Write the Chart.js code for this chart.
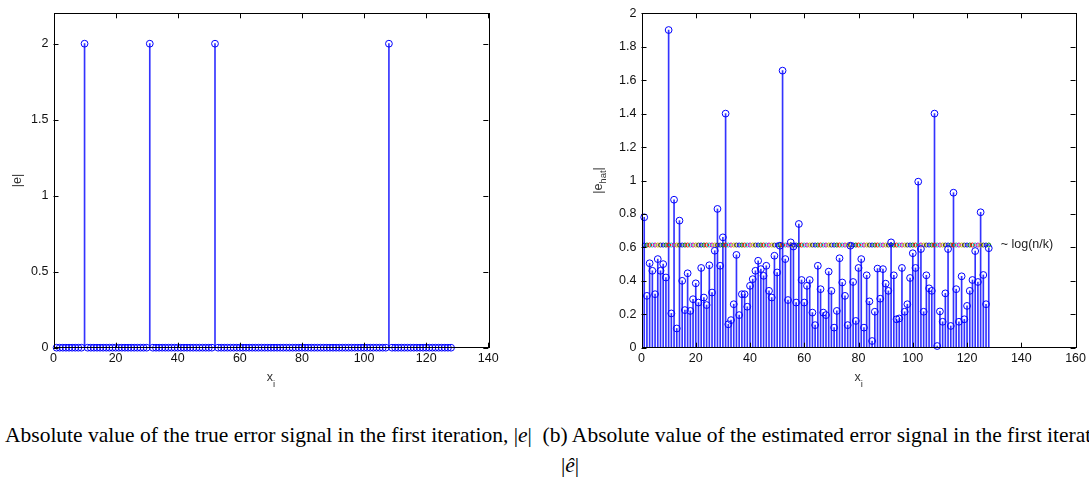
<!DOCTYPE html>
<html>
<head>
<meta charset="utf-8">
<script src="https://cdn.jsdelivr.net/npm/chart.js@4.4.1/dist/chart.umd.min.js"></script>
<style>
  body { margin: 0; width: 1089px; height: 480px; overflow: hidden; background: #fff; position: relative; }
  canvas { position: absolute; top: 0; }
  #left { left: 0; }
  #right { left: 588px; }
  .cap { position: absolute; font-family: "Liberation Serif", "Times New Roman", serif; font-size: 21.5px; white-space: nowrap; color: #000; }
</style>
</head>
<body>
<canvas id="left" width="545" height="400"></canvas>
<canvas id="right" width="501" height="400"></canvas>
<div class="cap" style="left:5px; top:423px;">Absolute value of the true error signal in the first iteration, |<i>e</i>|&nbsp; (b) Absolute value of the estimated error signal in the first iteration,</div>
<div class="cap" style="left:561px; top:453px;">|<i>ê</i>|</div>
<script>
// sample index 1..128
var idx = [];
for (var i = 1; i <= 128; i++) idx.push(i);

// true error magnitude |e|
var trueErr = [
  0,0,0,0,0,0,0,0,0,2, 0,0,0,0,0,0,0,0,0,0,
  0,0,0,0,0,0,0,0,0,0, 2,0,0,0,0,0,0,0,0,0,
  0,0,0,0,0,0,0,0,0,0, 0,2,0,0,0,0,0,0,0,0,
  0,0,0,0,0,0,0,0,0,0, 0,0,0,0,0,0,0,0,0,0,
  0,0,0,0,0,0,0,0,0,0, 0,0,0,0,0,0,0,0,0,0,
  0,0,0,0,0,0,0,2,0,0, 0,0,0,0,0,0,0,0,0,0,
  0,0,0,0,0,0,0,0
];

// estimated error magnitude |e_hat|
var estErr = [
  0.78, 0.31, 0.505, 0.46, 0.32, 0.53, 0.46, 0.50, 0.42, 1.90,
  0.205, 0.885, 0.115, 0.76, 0.40, 0.225, 0.445, 0.22, 0.29, 0.385,
  0.27, 0.477, 0.30, 0.255, 0.493, 0.33, 0.58, 0.83, 0.49, 0.66,
  1.40, 0.14, 0.165, 0.26, 0.555, 0.195, 0.32, 0.32, 0.245, 0.37,
  0.41, 0.46, 0.52, 0.47, 0.43, 0.49, 0.34, 0.30, 0.55, 0.45,
  0.61, 1.657, 0.53, 0.285, 0.63, 0.605, 0.27, 0.74, 0.405, 0.27,
  0.37, 0.405, 0.21, 0.135, 0.49, 0.35, 0.21, 0.195, 0.455, 0.34,
  0.12, 0.22, 0.535, 0.39, 0.31, 0.135, 0.61, 0.393, 0.16, 0.477,
  0.53, 0.12, 0.433, 0.277, 0.04, 0.215, 0.473, 0.293, 0.47, 0.383,
  0.34, 0.63, 0.433, 0.17, 0.175, 0.477, 0.215, 0.26, 0.417, 0.565,
  0.477, 0.993, 0.59, 0.215, 0.433, 0.355, 0.34, 1.40, 0.01, 0.217,
  0.155, 0.325, 0.59, 0.13, 0.927, 0.35, 0.155, 0.427, 0.17, 0.25,
  0.34, 0.405, 0.578, 0.393, 0.81, 0.435, 0.26, 0.595
];

// threshold level, roughly log(n/k)
var threshold = 0.614;
var thresholdLabel = '~ log(n/k)';

var xTicksLeft = [0, 20, 40, 60, 80, 100, 120, 140];
var yTicksLeft = [0, 0.5, 1, 1.5, 2];
var xTicksRight = [0, 20, 40, 60, 80, 100, 120, 140, 160];
var yTicksRight = [0, 0.2, 0.4, 0.6, 0.8, 1, 1.2, 1.4, 1.6, 1.8, 2];

// matlab-ish line colour order for the threshold markers
var lineColors = ['#0000ff', '#008000', '#ff0000', '#00bfbf', '#bf00bf', '#bfbf00', '#404040'];

var fontFamily = 'Liberation Sans, Arial, sans-serif';
var tickFont = { family: fontFamily, size: 12.5 };

// box around the axes with inward tick marks on all four sides
var boxTicks = {
  id: 'boxTicks',
  afterDatasetsDraw: function (chart) {
    var ctx = chart.ctx, a = chart.chartArea;
    var xs = chart.scales.x, ys = chart.scales.y;
    var len = 5;
    ctx.save();
    ctx.strokeStyle = '#000';
    ctx.lineWidth = 1;
    ctx.beginPath();
    xs.ticks.forEach(function (t) {
      var px = Math.round(xs.getPixelForValue(t.value)) + 0.5;
      ctx.moveTo(px, a.bottom); ctx.lineTo(px, a.bottom - len);
      ctx.moveTo(px, a.top); ctx.lineTo(px, a.top + len);
    });
    ys.ticks.forEach(function (t) {
      var py = Math.round(ys.getPixelForValue(t.value)) + 0.5;
      ctx.moveTo(a.left, py); ctx.lineTo(a.left + len, py);
      ctx.moveTo(a.right, py); ctx.lineTo(a.right - len, py);
    });
    ctx.stroke();
    ctx.strokeRect(Math.round(a.left) + 0.5, Math.round(a.top) + 0.5,
      Math.round(a.right - a.left), Math.round(a.bottom - a.top));
    ctx.restore();
  }
};

// axis titles with subscripts, plus the threshold note
var axisTitles = {
  id: 'axisTitles',
  afterDraw: function (chart) {
    var o = chart.options.plugins.axisTitles;
    var ctx = chart.ctx, a = chart.chartArea;
    var cx = (a.left + a.right) / 2, cy = (a.top + a.bottom) / 2;
    var big = '12.5px ' + fontFamily, small = '9.5px ' + fontFamily;
    ctx.save();
    ctx.fillStyle = '#333';
    ctx.textBaseline = 'alphabetic';
    ctx.font = big;
    // x_i
    ctx.textAlign = 'left';
    var w = ctx.measureText('x').width;
    ctx.fillText('x', cx - w / 2 - 1, a.bottom + 33);
    ctx.font = small;
    ctx.fillText('i', cx + w / 2 - 1, a.bottom + 39);
    // y label, rotated
    ctx.translate(o.yTitleX, cy);
    ctx.rotate(-Math.PI / 2);
    ctx.font = big;
    var main = o.yMain, sub = o.ySub;
    var w1 = ctx.measureText(main).width;
    ctx.font = small;
    var w2 = sub ? ctx.measureText(sub).width : 0;
    ctx.font = big;
    var w3 = ctx.measureText('|').width;
    var total = w1 + w2 + (sub ? w3 : 0);
    var sx = -total / 2;
    ctx.fillText(main, sx, 4);
    if (sub) {
      ctx.font = small;
      ctx.fillText(sub, sx + w1, 8);
      ctx.font = big;
      ctx.fillText('|', sx + w1 + w2, 4);
    }
    ctx.restore();
    if (o.note) {
      var xs = chart.scales.x, ys = chart.scales.y;
      ctx.save();
      ctx.fillStyle = '#222';
      ctx.font = big;
      ctx.textAlign = 'left';
      ctx.textBaseline = 'middle';
      ctx.fillText(o.note, xs.getPixelForValue(128) + 12, ys.getPixelForValue(threshold));
      ctx.restore();
    }
  }
};

function plainLabel(v) { return String(v); }

function stemChart(id, values, xMax, xTicks, yMax, yTicks, titles, padRight, withThreshold) {
  var pts = idx.map(function (x, i) { return { x: x, y: values[i] }; });
  var datasets = [
    {
      type: 'scatter',
      data: pts,
      pointStyle: 'circle',
      pointRadius: 3.4,
      borderColor: '#0000ff',
      backgroundColor: 'rgba(0,0,0,0)',
      borderWidth: 1,
      clip: false,
      order: 0
    },
    {
      type: 'bar',
      data: pts,
      backgroundColor: 'rgba(0,0,255,0.8)',
      borderWidth: 0,
      barThickness: 1,
      clip: false,
      order: 2
    }
  ];
  if (withThreshold) {
    datasets.push({
      type: 'scatter',
      data: idx.map(function (x) { return { x: x, y: threshold }; }),
      pointStyle: 'circle',
      pointRadius: 2,
      borderWidth: 1,
      backgroundColor: 'rgba(0,0,0,0)',
      borderColor: idx.map(function (x, i) { return lineColors[i % lineColors.length]; }),
      clip: false,
      order: 1
    });
  }
  return new Chart(document.getElementById(id), {
    type: 'scatter',
    data: { datasets: datasets },
    plugins: [boxTicks, axisTitles],
    options: {
      responsive: false,
      animation: false,
      events: [],
      layout: { padding: { top: 13.3, right: padRight, bottom: 0, left: 0 } },
      plugins: {
        legend: { display: false },
        tooltip: { enabled: false },
        axisTitles: titles
      },
      scales: {
        x: {
          type: 'linear', min: 0, max: xMax, offset: false,
          afterBuildTicks: function (s) { s.ticks = xTicks.map(function (v) { return { value: v }; }); },
          afterFit: function (s) { s.height = 52.3; },
          ticks: { font: tickFont, color: '#111', padding: 3, maxRotation: 0, autoSkip: false, callback: plainLabel },
          grid: { display: false, drawTicks: false },
          border: { display: false }
        },
        y: {
          type: 'linear', min: 0, max: yMax,
          afterBuildTicks: function (s) { s.ticks = yTicks.map(function (v) { return { value: v }; }); },
          afterFit: function (s) { s.width = 53.5; },
          ticks: { font: tickFont, color: '#111', padding: 5, autoSkip: false, callback: plainLabel },
          grid: { display: false, drawTicks: false },
          border: { display: false }
        }
      }
    }
  });
}

stemChart('left', trueErr, 140, xTicksLeft, 2.2, yTicksLeft,
  { yMain: '|e|', ySub: '', yTitleX: 17 }, 56.7, false);
stemChart('right', estErr, 160, xTicksRight, 2, yTicksRight,
  { yMain: '|e', ySub: 'hat', yTitleX: 10, note: thresholdLabel }, 12.3, true);
</script>
</body>
</html>
